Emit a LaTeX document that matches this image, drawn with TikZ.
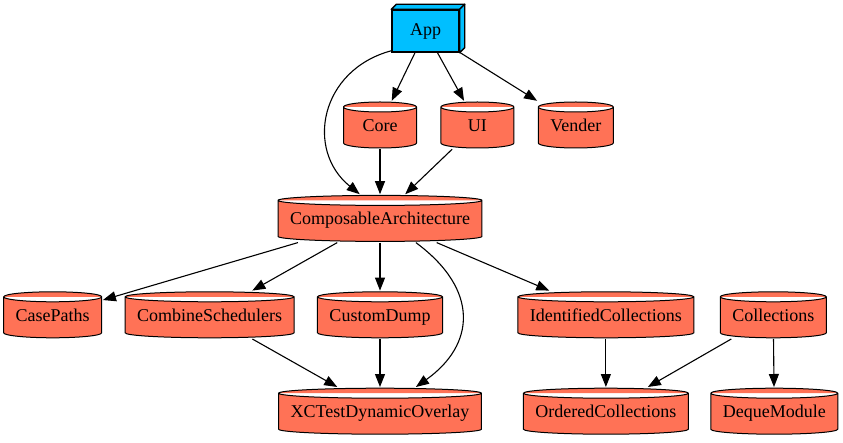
\documentclass[tikz,border=0pt]{standalone}
\usepackage{fontspec}
\setmainfont{Liberation Serif}
\usetikzlibrary{arrows.meta, positioning, calc}
\definecolor{appblue}{HTML}{00BFFF}
\definecolor{pkgfill}{HTML}{FF7256}

\begin{document}
\begin{tikzpicture}[
  x=1pt, y=1pt,
  appbox/.style={draw, fill=appblue, line width=1.4pt, minimum width=67pt, minimum height=42pt, inner sep=0pt, font=\fontsize{18}{20}\selectfont},
  pkg/.style={rectangle, inner xsep=13pt, inner ysep=0pt, minimum width=75pt, minimum height=48pt, text height=12.5pt, text depth=0pt, font=\fontsize{18}{20}\selectfont,
    path picture={
      \draw[fill=pkgfill, line width=1pt]
        let \p1=(path picture bounding box.south west), \p2=(path picture bounding box.north east),
            \n1={(\x2-\x1)/2-1pt} in
        (\x1+1pt,\y2-6pt) arc[start angle=180, end angle=0, x radius=\n1, y radius=5pt]
        -- (\x2-1pt,\y1+6pt) arc[start angle=0, end angle=-180, x radius=\n1, y radius=5pt] -- cycle
        (\x1+1pt,\y2-6pt) arc[start angle=180, end angle=360, x radius=\n1, y radius=5pt];
    }},
  dep/.style={-{Triangle[length=13pt, width=10pt]}, line width=1.1pt},
  node distance=48pt and 22pt
]
\useasboundingbox (0,0) rectangle (843,-443);

% top
\node[appbox] (app) at (425.5,-31) {App};
\draw[fill=appblue, line width=1.4pt, line join=round] (app.north west) -- ([shift={(5pt,5pt)}]app.north west) -- ([shift={(5pt,5pt)}]app.north east) -- (app.north east) -- cycle;
\draw[fill=appblue, line width=1.4pt, line join=round] (app.north east) -- ([shift={(5pt,5pt)}]app.north east) -- ([shift={(5pt,5pt)}]app.south east) -- (app.south east) -- cycle;

\node[pkg] (core) at (380,-125) {Core};
\node[pkg, right=of core] (ui) {UI};
\node[pkg, right=of ui] (vender) {Vender};

\node[pkg, below=45pt of core] (ca) {ComposableArchitecture};

% third row
\node[pkg, below=of ca] (customdump) {CustomDump};
\node[pkg, left=21pt of customdump] (combine) {CombineSchedulers};
\node[pkg, left=21pt of combine] (casepaths) {CasePaths};
\node[pkg, right=73pt of customdump] (identified) {IdentifiedCollections};
\node[pkg, right=24pt of identified] (collections) {Collections};

% bottom row
\node[pkg, below=of customdump] (xctest) {XCTestDynamicOverlay};
\node[pkg, below=of identified] (ordered) {OrderedCollections};
\node[pkg, right=20pt of ordered] (deque) {DequeModule};

\draw[dep] (app) -- (core);
\draw[dep] (app) -- (ui);
\draw[dep] (app) -- (vender);
\draw[dep] (app.210) .. controls (320,-70) and (305,-150) .. (ca.130);
\draw[dep] (core) -- (ca);
\draw[dep] (ui) -- (ca);

\draw[dep] (ca) -- (casepaths);
\draw[dep] (ca) -- (combine);
\draw[dep] (ca) -- (customdump);
\draw[dep] (ca.-34) .. controls (480,-290) and (475,-345) .. (xctest.34);
\draw[dep] (ca) -- (identified);

\draw[dep] (combine) -- (xctest);
\draw[dep] (customdump) -- (xctest);
\draw[dep] (identified) -- (ordered);
\draw[dep] (collections) -- (ordered);
\draw[dep] (collections) -- (deque);
\end{tikzpicture}
\end{document}
